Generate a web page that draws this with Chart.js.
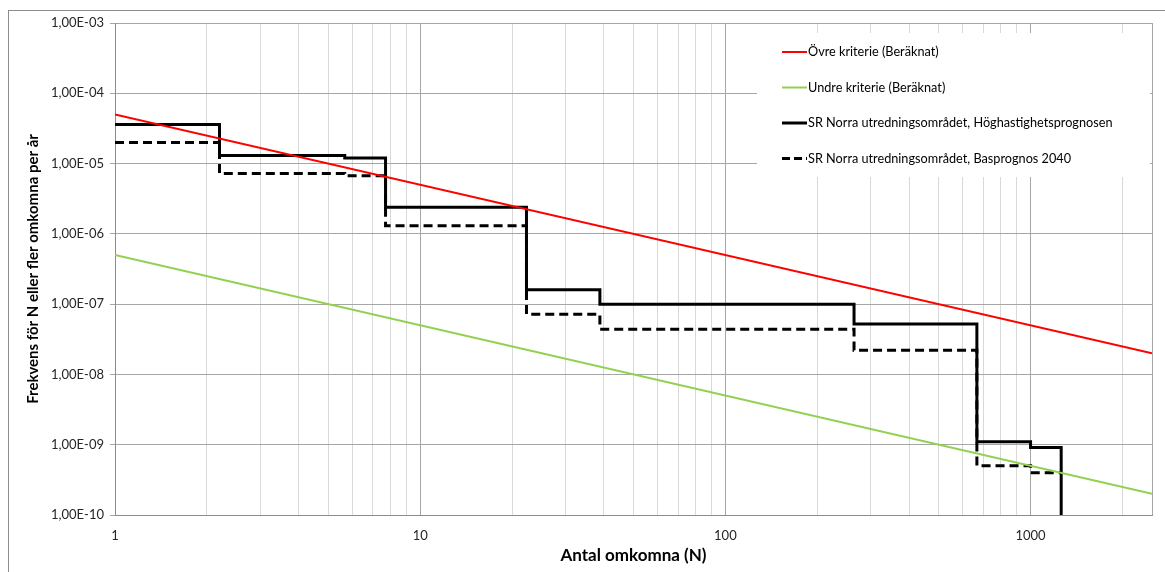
<!DOCTYPE html>
<html>
<head>
<meta charset="utf-8">
<script src="https://cdn.jsdelivr.net/npm/chart.js@4/dist/chart.umd.min.js"></script>
<style>
  html, body { margin: 0; padding: 0; background: #fff; }
  #wrap { position: relative; width: 1165px; height: 572px; overflow: hidden; }
  #frame { position: absolute; left: 8px; top: 10px; width: 1200px; height: 600px; border: 1px solid #8c8c8c; }
  #chart { position: absolute; left: 0; top: 0; }
</style>
</head>
<body>
<div id="wrap">
  <div id="frame"></div>
  <canvas id="chart" width="1165" height="572"></canvas>
</div>
<script>
// F-N diagram: criteria lines plus the two stepped risk curves

const N_BREAKS = [1, 2.2, 5.66, 7.7, 22.3, 38.8, 264, 667, 1000, 1260];
const HOG_VALUES = [3.6e-5, 1.3e-5, 1.2e-5, 2.4e-6, 1.6e-7, 1.0e-7, 5.2e-8, 1.1e-9, 9.1e-10, 1e-11];
const BAS_VALUES = [2.0e-5, 7.2e-6, 6.7e-6, 1.3e-6, 7.2e-8, 4.4e-8, 2.2e-8, 5.0e-10, 4.0e-10, 4.0e-10];

const CRIT_N = [1, 2500];
const UPPER_CRIT = [5e-5, 2e-8];
const LOWER_CRIT = [5e-7, 2e-10];

const X_DECADES = [1, 10, 100, 1000];
const X_MAX = 2500;
const Y_EXPONENTS = [-10, -9, -8, -7, -6, -5, -4, -3];

const LABELS = [
    'Övre kriterie (Beräknat)',
    'Undre kriterie (Beräknat)',
    'SR Norra utredningsområdet, Höghastighetsprognosen',
    'SR Norra utredningsområdet, Basprognos 2040'
];

const FONT = 'Lato';
const MAJOR_GRID = '#a6a6a6';
const MINOR_GRID = '#d9d9d9';

const pts = (xs, ys) => xs.map((x, i) => ({ x: x, y: ys[i] }));
const isDecade = (v) => Math.abs(Math.log10(v) - Math.round(Math.log10(v))) < 1e-9;

function sciLabel(v) {
    const [m, e] = v.toExponential(2).split('e');
    const exp = parseInt(e, 10);
    const sign = exp < 0 ? '-' : '+';
    return m.replace('.', ',') + 'E' + sign + String(Math.abs(exp)).padStart(2, '0');
}

// legend drawn inside the plot area, on a white box that hides the grid
const boxLegend = {
    id: 'boxLegend',
    afterDraw(chart) {
        const { ctx, chartArea } = chart;
        const left = chartArea.right - 395, top = chartArea.top + 10;
        ctx.save();
        ctx.fillStyle = '#fff';
        ctx.fillRect(left, top, 393, 144);
        ctx.font = '12.7px ' + FONT;
        ctx.textBaseline = 'middle';
        chart.data.datasets.forEach((ds, i) => {
            const y = top + 19 + i * 35.5;
            ctx.strokeStyle = ds.borderColor;
            ctx.lineWidth = ds.borderWidth;
            ctx.setLineDash(ds.borderDash && ds.borderDash.length ? [8, 4] : []);
            ctx.beginPath();
            ctx.moveTo(left + 25, y);
            ctx.lineTo(left + 50, y);
            ctx.stroke();
            ctx.setLineDash([]);
            ctx.fillStyle = '#000';
            ctx.fillText(ds.label, left + 51, y);
        });
        ctx.restore();
    }
};

new Chart(document.getElementById('chart'), {
    type: 'scatter',
    data: {
        datasets: [
            { label: LABELS[0], data: pts(CRIT_N, UPPER_CRIT), showLine: true, borderColor: '#ff0000', borderWidth: 2, pointRadius: 0 },
            { label: LABELS[1], data: pts(CRIT_N, LOWER_CRIT), showLine: true, borderColor: '#92d050', borderWidth: 2, pointRadius: 0 },
            { label: LABELS[2], data: pts(N_BREAKS, HOG_VALUES), showLine: true, stepped: 'before', borderColor: '#000', borderWidth: 3, pointRadius: 0 },
            { label: LABELS[3], data: pts(N_BREAKS, BAS_VALUES), showLine: true, stepped: 'before', borderColor: '#000', borderWidth: 3, borderDash: [9, 5], pointRadius: 0 }
        ]
    },
    options: {
        responsive: false,
        animation: false,
        layout: { padding: { left: 0, top: 23, right: 13, bottom: 0 } },
        plugins: { legend: { display: false }, tooltip: { enabled: false } },
        scales: {
            x: {
                type: 'logarithmic',
                min: 1,
                max: X_MAX,
                afterBuildTicks(scale) {
                    const ticks = [];
                    X_DECADES.forEach(d => {
                        for (let m = 1; m <= 9; m++) if (m * d < X_MAX) ticks.push({ value: m * d });
                    });
                    ticks.push({ value: X_MAX });
                    scale.ticks = ticks;
                },
                afterFit(scale) { scale.height = 57; },
                grid: {
                    drawTicks: false,
                    color: (c) => (c.tick && (isDecade(c.tick.value) || c.tick.value === X_MAX)) ? MAJOR_GRID : MINOR_GRID
                },
                border: { color: '#8c8c8c' },
                ticks: {
                    autoSkip: false,
                    maxRotation: 0,
                    padding: 13,
                    color: '#262626',
                    font: { family: FONT, size: 13 },
                    callback: (v) => (isDecade(v) && v !== X_MAX) ? String(Math.round(v)) : ''
                },
                title: {
                    display: true,
                    text: 'Antal omkomna (N)',
                    color: '#000',
                    font: { family: FONT, size: 17, weight: 'bold' },
                    padding: { top: 0, bottom: 6 }
                }
            },
            y: {
                type: 'logarithmic',
                min: 1e-10,
                max: 1e-3,
                afterBuildTicks(scale) {
                    scale.ticks = Y_EXPONENTS.map(e => ({ value: Math.pow(10, e) }));
                },
                afterFit(scale) { scale.width = 115; },
                grid: { color: MAJOR_GRID, tickLength: 5 },
                border: { color: '#8c8c8c' },
                ticks: {
                    autoSkip: false,
                    padding: 6,
                    color: '#262626',
                    font: { family: FONT, size: 13 },
                    callback: (v) => sciLabel(v)
                },
                title: {
                    display: true,
                    text: 'Frekvens för N eller fler omkomna per år',
                    color: '#000',
                    font: { family: FONT, size: 15, weight: 'bold' },
                    padding: { top: 24, bottom: 0 }
                }
            }
        }
    },
    plugins: [boxLegend]
});
</script>
</body>
</html>
